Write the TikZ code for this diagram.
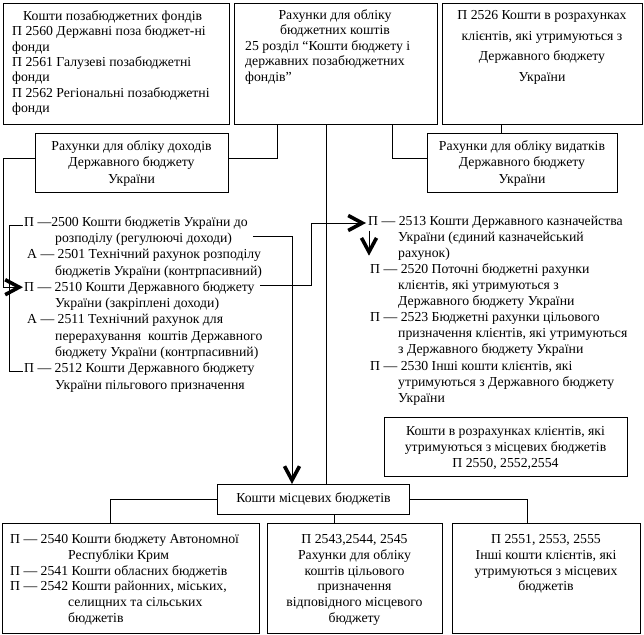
\documentclass[tikz,border=0pt]{standalone}
\usepackage{fontspec}
\setmainfont{Liberation Serif}
\usetikzlibrary{arrows.meta}
\begin{document}
\begin{tikzpicture}[x=1bp,y=-1bp,
  frame/.style={draw, line width=0.8bp, inner sep=0, anchor=north west},
  conn/.style={line width=0.8bp},
  txt/.style={inner sep=0, font=\fontsize{13.8}{#1}\selectfont},
  txt/.default=16.3,
  tleft/.style={txt=#1, anchor=north west, align=left},
  tleft/.default=16.3,
  tcent/.style={txt=#1, anchor=north, align=center},
  tcent/.default=16.3,
  bigarrow/.style={-{Straight Barb[length=14bp,width=15bp,line width=3.6bp 0,line join=miter]}},
]
\useasboundingbox (0,0) rectangle (644,635);

% boxes
\node[frame, minimum width=226bp, minimum height=121bp] (tl) at (3,3) {};
\node[frame, minimum width=203bp, minimum height=121bp] (tm) at (234,3) {};
\node[frame, minimum width=200bp, minimum height=121bp] (tr) at (442,3) {};
\node[frame, minimum width=193bp, minimum height=59bp] (dox) at (35,133) {};
\node[frame, minimum width=190bp, minimum height=59bp] (vyd) at (427,133) {};
\node[frame, minimum width=243bp, minimum height=59bp] (rozr) at (384,417) {};
\node[frame, minimum width=192bp, minimum height=30bp, font=\fontsize{13.8}{16.3}\selectfont] (mist) at (217,484) {Кошти місцевих бюджетів};
\node[frame, minimum width=257bp, minimum height=110bp] (bl) at (2,523) {};
\node[frame, minimum width=175bp, minimum height=110bp] (bm) at (267,523) {};
\node[frame, minimum width=188bp, minimum height=110bp] (br) at (452,523) {};

% box texts
\node[tleft=15.5] (tlT) at (12,9.2) {\strut\hspace*{11bp}Кошти позабюджетних фондів\\П 2560 Державні поза бюджет-ні\\фонди\\П 2561 Галузеві позабюджетні\\фонди\\П 2562 Регіональні позабюджетні\\фонди};
\node[tcent=15.5] (tmA) at (335,8.2) {\strut Рахунки для обліку\\бюджетних коштів};
\node[tleft=15.5] (tmB) at (245,39.2) {\strut 25 розділ “Кошти бюджету і\\державних позабюджетних\\фондів”};
\node[tcent=21] (trT) at (542,4.3) {\strut П 2526 Кошти в розрахунках\\клієнтів, які утримуються з\\Державного бюджету\\України};
\node[tcent=16.5] (doxT) at (131.5,138.5) {\strut Рахунки для обліку доходів\\Державного бюджету\\України};
\node[tcent=16.5] (vydT) at (522,138.5) {\strut Рахунки для обліку видатків\\Державного бюджету\\України};
\node[tcent=16] (rozrT) at (505.5,423.8) {\strut Кошти в розрахунках клієнтів, які\\утримуються з місцевих бюджетів\\П 2550, 2552,2554};
\node[tleft=16] (blT) at (10,531.8) {\strut П — 2540 Кошти бюджету Автономної\\\hspace*{58bp}Республіки Крим\\П — 2541 Кошти обласних бюджетів\\П — 2542 Кошти районних, міських,\\\hspace*{58bp}селищних та сільських\\\hspace*{58bp}бюджетів};
\node[tcent=16] (bmT) at (354.5,531.8) {\strut П 2543,2544, 2545\\Рахунки для обліку\\коштів цільового\\призначення\\відповідного місцевого\\бюджету};
\node[tcent=16] (brT) at (546,531.8) {\strut П 2551, 2553, 2555\\Інші кошти клієнтів, які\\утримуються з місцевих\\бюджетів};

% left list
\node[tleft] (e2500) at (24,214.6) {\strut П —2500 Кошти бюджетів України до\\\hspace*{31bp}розподілу (регулюючі доходи)};
\node[tleft] (e2501) at (27,247.2) {\strut А — 2501 Технічний рахунок розподілу\\\hspace*{28bp}бюджетів України (контрпасивний)};
\node[tleft] (e2510) at (24,279.8) {\strut П — 2510 Кошти Державного бюджету\\\hspace*{31bp}України (закріплені доходи)};
\node[tleft] (e2511) at (27,312.4) {\strut А — 2511 Технічний рахунок для\\\hspace*{28bp}перерахування~ коштів Державного\\\hspace*{28bp}бюджету України (контрпасивний)};
\node[tleft] (e2512) at (24,361.3) {\strut П — 2512 Кошти Державного бюджету\\\hspace*{31bp}України пільгового призначення};

% right list
\node[tleft=16.1] (e2513) at (368,213.7) {\strut П — 2513 Кошти Державного казначейства\\\hspace*{30bp}України (єдиний казначейський\\\hspace*{30bp}рахунок)};
\node[tleft=16.1] (e2520) at (370,262) {\strut П — 2520 Поточні бюджетні рахунки\\\hspace*{28bp}клієнтів, які утримуються з\\\hspace*{28bp}Державного бюджету України};
\node[tleft=16.1] (e2523) at (370,310.3) {\strut П — 2523 Бюджетні рахунки цільового\\\hspace*{28bp}призначення клієнтів, які утримуються\\\hspace*{28bp}з Державного бюджету України};
\node[tleft=16.1] (e2530) at (370,358.6) {\strut П — 2530 Інші кошти клієнтів, які\\\hspace*{28bp}утримуються з Державного бюджету\\\hspace*{28bp}України};

% x positions of connectors
\coordinate (xA) at (277,0);
\coordinate (xB) at (392,0);
\coordinate (xC) at (501,0);
\coordinate (xD) at (326,0);
\coordinate (xF) at (292,0);
\coordinate (xH) at (110,0);
\coordinate (xI) at (334,0);
\coordinate (xJ) at (527,0);

% connectors
\draw[conn] ([yshift=4.5bp]dox.east) -| (tm.south -| xA);
\draw[conn] ([yshift=4.5bp]vyd.west) -| (tm.south -| xB);
\draw[conn] (tr.south -| xC) -- (vyd.north -| xC);
\draw[conn] (tm.south -| xD) -- (mist.north -| xD);
\draw[conn,bigarrow] ([yshift=4.5bp]dox.west) -| ([xshift=-21bp,yshift=-7.4bp]e2510.north west) -- ([xshift=-1bp,yshift=-7.4bp]e2510.north west);
\draw[conn] ([xshift=-1bp,yshift=-10.4bp]e2500.north west) -| ([xshift=-15bp,yshift=-10.4bp]e2512.north west) -- ([xshift=-1bp,yshift=-10.4bp]e2512.north west);
\draw[conn,bigarrow] ([xshift=5bp,yshift=-6bp]e2500.east) -| (mist.north -| xF);
\draw[conn,bigarrow] ([xshift=5bp,yshift=10bp]e2510.east) -| ([xshift=-57bp,yshift=-9.3bp]e2513.north west) -- ([xshift=-2bp,yshift=-9.3bp]e2513.north west);
\draw[conn,bigarrow] ([xshift=1bp,yshift=-17bp]e2513.north west) -- ([xshift=1bp,yshift=-42bp]e2513.north west);
\draw[conn] (mist.west) -| (bl.north -| xH);
\draw[conn] (mist.south -| xI) -- (bm.north -| xI);
\draw[conn] (mist.east) -| (br.north -| xJ);
\end{tikzpicture}
\end{document}
